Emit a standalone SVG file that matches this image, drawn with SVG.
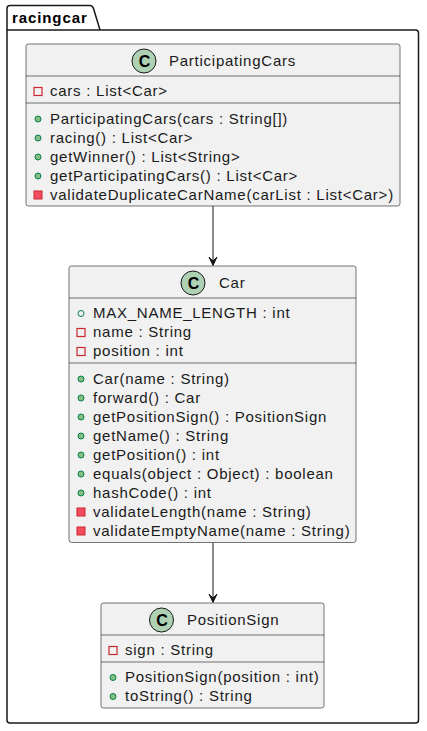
<svg xmlns="http://www.w3.org/2000/svg" width="427" height="731" viewBox="0 0 427 731">
<style>
.t{font-family:"Liberation Sans",Arial,sans-serif;font-size:15px;letter-spacing:0.75px;fill:#1a1a1a}
.pk{font-family:"Liberation Sans",Arial,sans-serif;font-size:15px;font-weight:bold;letter-spacing:0.9px;fill:#000}
.c{font-family:"Liberation Sans",Arial,sans-serif;font-size:16px;font-weight:bold;fill:#000;text-anchor:middle}
.box{fill:#F1F1F1;stroke:#181818;stroke-width:0.6}
.div{stroke:#181818;stroke-width:0.6}
.ci{fill:#ADD1B2;stroke:#181818;stroke-width:1}
.pubm{fill:#84BE84;stroke:#038048;stroke-width:1}
.pubf{fill:none;stroke:#038048;stroke-width:1}
.privf{fill:none;stroke:#C82930;stroke-width:1.2}
.privm{fill:#F24D5C;stroke:#C82930;stroke-width:1}
.ln{stroke:#181818;stroke-width:1;fill:none}
.ah{fill:#181818;stroke:#181818;stroke-width:1}
</style>
<g id="package-racingcar">
<path d="M7,30 L7,8.5 Q7,5.5 10,5.5 L90,5.5 Q92.5,5.5 93.5,8.5 L100,30" fill="none" stroke="#181818" stroke-width="1.5"/>
<path d="M7,30 L415.5,30 Q418.5,30 418.5,33 L418.5,720 Q418.5,723 415.5,723 L10,723 Q7,723 7,720 Z" fill="none" stroke="#181818" stroke-width="1.5"/>
<text class="pk" x="12" y="23">racingcar</text>
</g>
<g id="connectors">
<line class="ln" x1="213" y1="206" x2="213" y2="264"/>
<polygon class="ah" points="209,257 213,265.5 217,257 213,261"/>
<line class="ln" x1="213" y1="542.5" x2="213" y2="601.5"/>
<polygon class="ah" points="209,594 213,602.5 217,594 213,598"/>
</g>
<g id="ParticipatingCars">
<rect class="box" x="26" y="44" width="374" height="162" rx="2.5"/>
<line class="div" x1="26" y1="76" x2="400" y2="76"/>
<line class="div" x1="26" y1="103" x2="400" y2="103"/>
<circle class="ci" cx="144" cy="61" r="12"/>
<text class="c" x="144.5" y="66.8">C</text>
<text class="t" x="169" y="66">ParticipatingCars</text>
<rect class="privf" x="34" y="87.5" width="8" height="8"/>
<text class="t" x="50" y="96">cars : List&lt;Car&gt;</text>
<circle class="pubm" cx="38" cy="119" r="3"/>
<text class="t" x="50" y="123.5">ParticipatingCars(cars : String[])</text>
<circle class="pubm" cx="38" cy="138" r="3"/>
<text class="t" x="50" y="142.5">racing() : List&lt;Car&gt;</text>
<circle class="pubm" cx="38" cy="157" r="3"/>
<text class="t" x="50" y="161.5">getWinner() : List&lt;String&gt;</text>
<circle class="pubm" cx="38" cy="176" r="3"/>
<text class="t" x="50" y="180.5">getParticipatingCars() : List&lt;Car&gt;</text>
<rect class="privm" x="34" y="191" width="8" height="8"/>
<text class="t" x="50" y="199.5">validateDuplicateCarName(carList : List&lt;Car&gt;)</text>
</g>
<g id="Car">
<rect class="box" x="69" y="266" width="287" height="276.5" rx="2.5"/>
<line class="div" x1="69" y1="298" x2="356" y2="298"/>
<line class="div" x1="69" y1="363" x2="356" y2="363"/>
<circle class="ci" cx="193" cy="283" r="12"/>
<text class="c" x="193.5" y="288.8">C</text>
<text class="t" x="219" y="288">Car</text>
<circle class="pubf" cx="81" cy="313.5" r="3"/>
<text class="t" x="93" y="318">MAX_NAME_LENGTH : int</text>
<rect class="privf" x="77" y="328.5" width="8" height="8"/>
<text class="t" x="93" y="337">name : String</text>
<rect class="privf" x="77" y="347.5" width="8" height="8"/>
<text class="t" x="93" y="356">position : int</text>
<circle class="pubm" cx="81" cy="379" r="3"/>
<text class="t" x="93" y="383.5">Car(name : String)</text>
<circle class="pubm" cx="81" cy="398" r="3"/>
<text class="t" x="93" y="402.5">forward() : Car</text>
<circle class="pubm" cx="81" cy="417" r="3"/>
<text class="t" x="93" y="421.5">getPositionSign() : PositionSign</text>
<circle class="pubm" cx="81" cy="436" r="3"/>
<text class="t" x="93" y="440.5">getName() : String</text>
<circle class="pubm" cx="81" cy="455" r="3"/>
<text class="t" x="93" y="459.5">getPosition() : int</text>
<circle class="pubm" cx="81" cy="474" r="3"/>
<text class="t" x="93" y="478.5">equals(object : Object) : boolean</text>
<circle class="pubm" cx="81" cy="493" r="3"/>
<text class="t" x="93" y="497.5">hashCode() : int</text>
<rect class="privm" x="77" y="508" width="8" height="8"/>
<text class="t" x="93" y="516.5">validateLength(name : String)</text>
<rect class="privm" x="77" y="527" width="8" height="8"/>
<text class="t" x="93" y="535.5">validateEmptyName(name : String)</text>
</g>
<g id="PositionSign">
<rect class="box" x="101" y="603" width="223" height="105" rx="2.5"/>
<line class="div" x1="101" y1="635" x2="324" y2="635"/>
<line class="div" x1="101" y1="662" x2="324" y2="662"/>
<circle class="ci" cx="161.5" cy="620" r="12"/>
<text class="c" x="162" y="625.8">C</text>
<text class="t" x="187" y="625">PositionSign</text>
<rect class="privf" x="109" y="646.5" width="8" height="8"/>
<text class="t" x="125" y="655">sign : String</text>
<circle class="pubm" cx="113" cy="677.5" r="3"/>
<text class="t" x="125" y="682">PositionSign(position : int)</text>
<circle class="pubm" cx="113" cy="696.5" r="3"/>
<text class="t" x="125" y="701">toString() : String</text>
</g>
</svg>
